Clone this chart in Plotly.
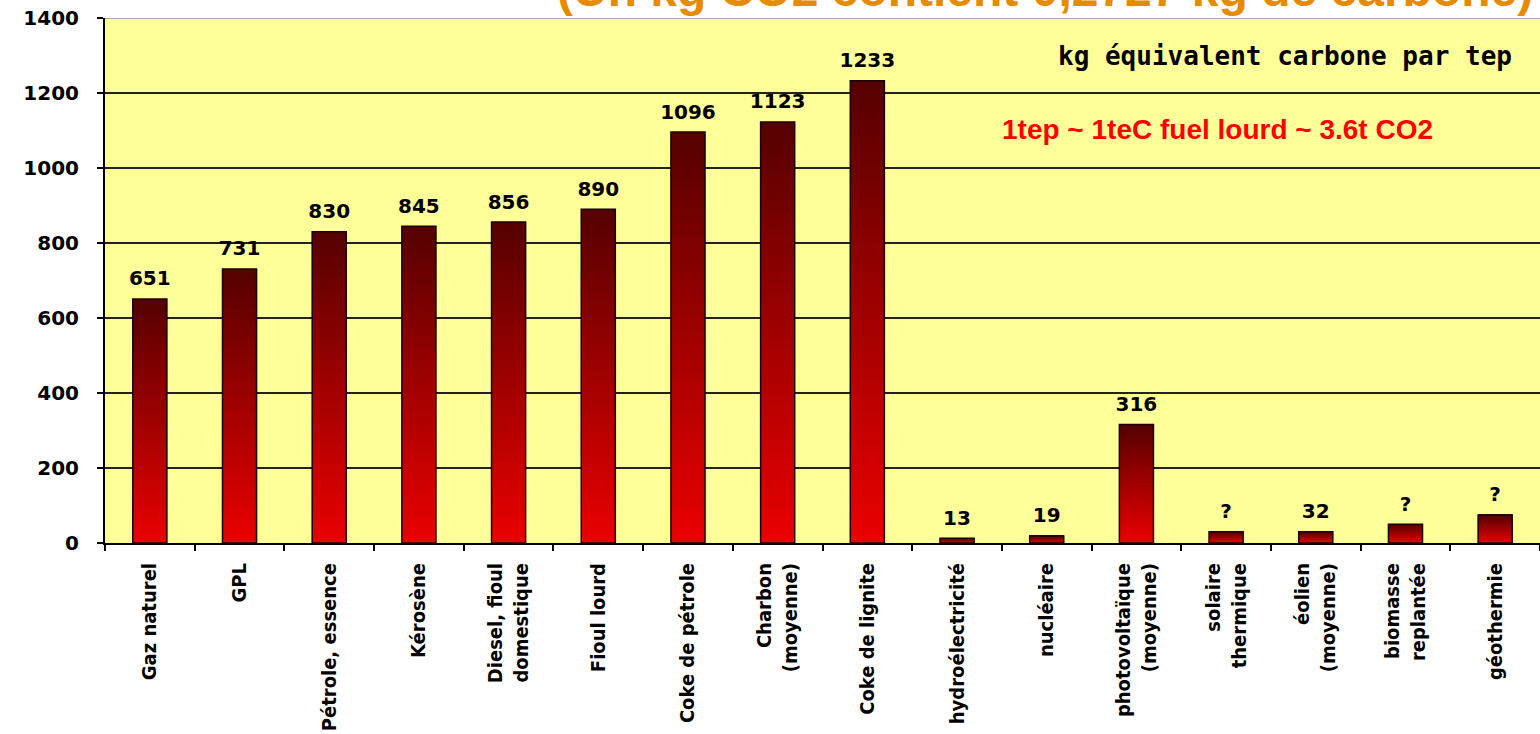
import plotly.graph_objects as go

categories = ["Gaz naturel", "GPL", "Pétrole, essence", "Kérosène",
              "Diesel, fioul<br>domestique", "Fioul lourd", "Coke de pétrole",
              "Charbon<br>(moyenne)", "Coke de lignite", "hydroélectricité",
              "nucléaire", "photovoltaïque<br>(moyenne)", "solaire<br>thermique",
              "éolien<br>(moyenne)", "biomasse<br>replantée", "géothermie"]
values = [651, 731, 830, 845, 856, 890, 1096, 1123, 1233, 13, 19, 316, 30, 30, 50, 75]
value_labels = ["651", "731", "830", "845", "856", "890", "1096", "1123", "1233",
                "13", "19", "316", "?", "32", "?", "?"]
y_ticks = [0, 200, 400, 600, 800, 1000, 1200, 1400]

fig = go.Figure()

# gradient bars: overlapping slices from bright red (bottom) to dark red (top)
N = 60
bottom = (235, 0, 0)
top = (85, 0, 0)
for k in range(N):
    t = (k + 0.5) / N
    c = tuple(int(round(bottom[i] + (top[i] - bottom[i]) * t)) for i in range(3))
    bases = [v * k / N for v in values]
    heights = [min(v / N * 2.0, v - b) for v, b in zip(values, bases)]
    fig.add_trace(go.Bar(
        x=categories, y=heights, base=bases,
        marker=dict(color="rgb(%d,%d,%d)" % c, line=dict(width=0)),
        showlegend=False, hoverinfo="skip",
    ))

# outline
fig.add_trace(go.Bar(
    x=categories, y=values,
    marker=dict(color="rgba(0,0,0,0)", line=dict(color="#1a0000", width=1.5)),
    showlegend=False, hoverinfo="skip",
))

# value labels
fig.add_trace(go.Scatter(
    x=categories, y=values, mode="markers+text",
    text=value_labels, textposition="top center",
    marker=dict(size=12, color="rgba(0,0,0,0)"),
    textfont=dict(family="DejaVu Sans", size=20, color="black", weight="bold"),
    showlegend=False, hoverinfo="skip", cliponaxis=False,
))

fig.update_layout(
    width=1540, height=734,
    margin=dict(l=105, r=0, t=18, b=191),
    paper_bgcolor="white", plot_bgcolor="#FFFF99",
    barmode="overlay", bargap=0.62,
    xaxis=dict(
        type="category", range=[-0.5, 15.5], autorange=False, automargin=False,
        showline=True, linecolor="black", linewidth=2,
        ticks="outside", tickson="boundaries", ticklen=6, tickcolor="black",
        tickwidth=1.5, tickangle=-90, showgrid=False, ticklabelstandoff=10,
        tickfont=dict(family="Liberation Sans Narrow, DejaVu Sans Condensed, Arial Narrow",
                      size=20, color="black", weight="bold"),
    ),
    yaxis=dict(
        range=[0, 1400], tickvals=y_ticks, showline=True, linecolor="black",
        linewidth=2, ticks="outside", ticklen=6, tickcolor="black", tickwidth=1.5,
        showgrid=True, gridcolor="#222222", gridwidth=1.6, zeroline=False,
        ticklabelstandoff=14, automargin=False,
        tickfont=dict(family="DejaVu Sans", size=20, color="black", weight="bold"),
    ),
    shapes=[dict(type="line", xref="paper", yref="y", x0=0, x1=1, y0=1400, y1=1400,
                 line=dict(color="#AAAAAA", width=2), layer="above")],
    annotations=[
        dict(text="(Un kg CO2 contient 0,2727 kg de carbone)", xref="paper", yref="paper",
             x=0.9965, y=1.0, xanchor="right", yanchor="bottom", showarrow=False,
             font=dict(family="Liberation Sans, Arial", size=48, color="#E68A00",
                       weight="bold")),
        dict(text="kg équivalent carbone par tep", xref="paper", yref="y",
             x=0.982, y=1298, xanchor="right", yanchor="middle", showarrow=False,
             font=dict(family="DejaVu Sans Mono", size=26, color="black", weight="bold")),
        dict(text="1tep ~ 1teC fuel lourd ~ 3.6t CO2", xref="paper", yref="y",
             x=0.624, y=1102, xanchor="left", yanchor="middle", showarrow=False,
             font=dict(family="Liberation Sans, Arial", size=28, color="#FF0000",
                       weight="bold")),
    ],
)

fig.write_html("out.html")
